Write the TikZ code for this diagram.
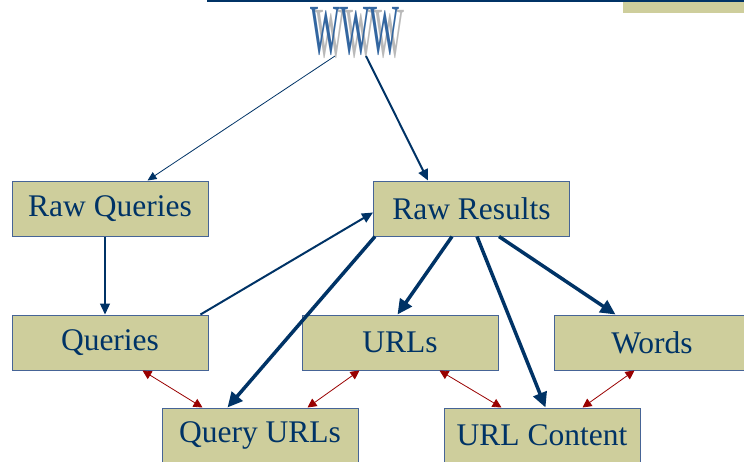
\documentclass[tikz,border=0pt]{standalone}
\usepackage{fontspec}
\setmainfont{Liberation Serif}
\usetikzlibrary{arrows.meta,calc}
\definecolor{tan}{RGB}{206,206,156}
\definecolor{navy}{RGB}{0,51,102}
\definecolor{edge}{RGB}{70,100,150}
\definecolor{wblue}{RGB}{51,102,160}
\definecolor{wgray}{RGB}{185,185,185}
\definecolor{dred}{RGB}{153,0,0}
\tikzset{
  box/.style={draw=edge, line width=1pt, fill=tan, minimum width=196pt, minimum height=55pt,
    inner sep=0pt, text=navy, font=\fontsize{31.5}{33}\selectfont},
  thinarr/.style={draw=navy, line width=0.8pt, -{Triangle[length=9pt,width=8pt]}},
  medarr/.style={draw=navy, line width=2pt, -{Triangle[length=11pt,width=10pt]}},
  thickarr/.style={draw=navy, line width=3.5pt, -{Triangle[length=15pt,width=14pt]}},
  redarr/.style={draw=dred, line width=0.8pt, {Triangle[length=9pt,width=9pt]}-{Triangle[length=9pt,width=9pt]}},
  wtext/.style={inner sep=0pt, font=\fontsize{72}{72}\selectfont, xscale=0.44, text height=47pt, text depth=0pt}
}
\begin{document}
\begin{tikzpicture}[x=1pt,y=-1pt]
\useasboundingbox (0,0) rectangle (744,461);
% header
\fill[tan] (623,2) rectangle (750,13);
\draw[navy, line width=3pt] (207,0.5) -- (750,0.5);
% WWW
\node[wtext, text=wgray] (wwwshadow) at (360,34) {WWW};
\node[wtext, text=wblue] (www) at (355,31) {WWW};
\coordinate (wwwl) at (335,56);
\coordinate (wwwr) at (366,56);
% boxes
\node[box] (rawq) at (110,208.5) {Raw Queries};
\node[box] (rawr) at (471.5,208.5) {Raw Results};
\node[box] (queries) at (110,342.5) {Queries};
\node[box] (urls) at (400,342.5) {URLs};
\node[box] (words) at (652,342.5) {Words};
\node[box] (qurls) at (260,435.5) {Query URLs};
\node[box] (ucont) at (542,435.5) {URL Content};
% blue arrows
\draw[thinarr] (wwwl) -- ([xshift=136pt]rawq.north west);
\draw[medarr] (wwwr) -- ([xshift=55pt]rawr.north west);
\draw[medarr, line width=1.2pt] (rawq.south -| 105,0) -- (queries.north -| 105,0);
\draw[medarr] ([xshift=-8pt]queries.north east) -- ([yshift=-4pt]rawr.west);
\draw[thickarr] ([xshift=2pt]rawr.south west) -- ([xshift=66pt]qurls.north west);
\draw[thickarr] ([xshift=79pt]rawr.south west) -- ([xshift=96pt]urls.north west);
\draw[thickarr] ([xshift=104pt]rawr.south west) -- ([xshift=102pt]ucont.north west);
\draw[thickarr] ([xshift=126pt]rawr.south west) -- ([xshift=62pt]words.north west);
% red arrows
\draw[redarr] ([xshift=131pt]queries.south west) -- ([xshift=41pt]qurls.north west);
\draw[redarr] ([xshift=58pt]urls.south west) -- ([xshift=146pt]qurls.north west);
\draw[redarr] ([xshift=138pt]urls.south west) -- ([xshift=58pt]ucont.north west);
\draw[redarr] ([xshift=81pt]words.south west) -- ([xshift=139pt]ucont.north west);
\end{tikzpicture}
\end{document}
